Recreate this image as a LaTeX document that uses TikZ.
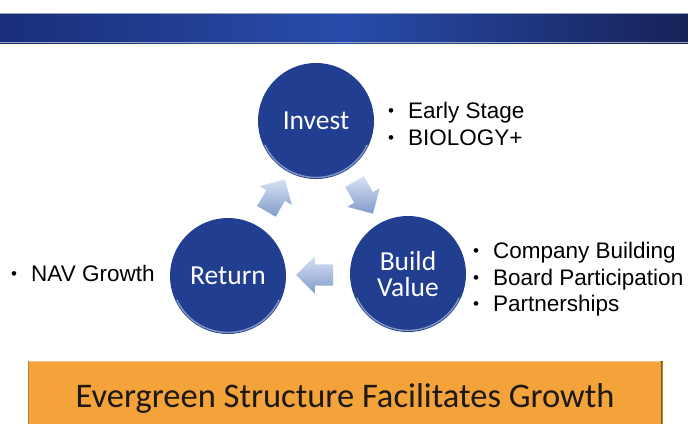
\documentclass[tikz,border=0pt]{standalone}
\usepackage{fontspec}
\setmainfont{Liberation Sans}
\newfontfamily\calibri{Carlito}
\usetikzlibrary{shapes.arrows}
\definecolor{circblue}{RGB}{33,62,145}
\definecolor{bandL}{RGB}{26,46,122}
\definecolor{bandM}{RGB}{40,76,170}
\definecolor{bandR}{RGB}{22,34,88}
\definecolor{bandline}{RGB}{150,162,185}
\definecolor{arrL}{RGB}{214,225,243}
\definecolor{arrD}{RGB}{130,155,203}
\definecolor{bannerfill}{RGB}{244,162,58}
\definecolor{bannerdraw}{RGB}{190,125,45}
\definecolor{bannertext}{RGB}{28,24,20}
\newcommand\bul{\makebox[20pt][l]{\raisebox{1.5pt}{\fontsize{17}{17}\selectfont •}}}
\tikzset{
  stage/.style={circle, minimum size=116pt, fill=circblue, text=white,
    font=\calibri\fontsize{27.5}{27}\selectfont, inner sep=0pt, align=center},
  cycarrow/.style={single arrow, draw=none, minimum height=37pt, inner sep=10.5pt,
    single arrow head extend=8pt, top color=arrL, bottom color=arrD},
  bullet/.style={font=\fontsize{22.5}{27}\selectfont, inner sep=0pt, anchor=base west},
  banner/.style={rectangle, minimum width=634pt, minimum height=74pt, fill=bannerfill,
    draw=bannerdraw, line width=0.8pt, text=bannertext,
    font=\calibri\fontsize{34.5}{34}\selectfont, inner sep=0pt},
  rim/.style={white, opacity=0.45, line width=1.4pt}
}
\begin{document}
\begin{tikzpicture}[x=1pt,y=1pt]
\useasboundingbox (0,0) rectangle (688,-423);
\clip (0,0) rectangle (688,-423);
\fill[white] (0,0) rectangle (688,-423);
% top band
\shade[left color=bandL, right color=bandR, middle color=bandM] (0,-13) rectangle (688,-43);
\draw[bandline, line width=1.2pt] (0,-13.6) -- (688,-13.6);
\draw[bandline, line width=1.2pt] (0,-42.4) -- (688,-42.4);
% stages
\node[stage] (inv) at (316,-121) {Invest};
\node[stage] (ret) at (228,-276) {Return};
\node[stage] (bld) at (408,-274) {Build\\[-1pt]Value};
\foreach \n in {inv,ret,bld}{
  \draw[rim] ([shift={(205:56.5)}]\n.center) arc[start angle=205, end angle=335, radius=56.5];
}
% cycle arrows
\node[cycarrow, rotate=60] (a1) at (273,-200) {};
\node[cycarrow, rotate=-60] (a2) at (361,-193) {};
\node[cycarrow, rotate=180] (a3) at (320,-275) {};
% bullets
\node[bullet] (e1) at (388,-118) {\bul Early Stage};
\node[bullet] (e2) at (388,-145) {\bul BIOLOGY+};
\node[bullet] (c1) at (473,-258) {\bul Company Building};
\node[bullet] (c2) at (473,-285) {\bul Board Participation};
\node[bullet] (c3) at (473,-311) {\bul Partnerships};
\node[bullet] (n1) at (11,-281) {\bul NAV Growth};
% banner
\node[banner] (ban) at (345,-398) {Evergreen Structure Facilitates Growth};
\draw[bannerdraw!70!black, line width=1.6pt] ([xshift=-0.8pt]ban.north east) -- ([xshift=-0.8pt]ban.south east);
\draw[bannerfill!60!white, line width=1pt] ([shift={(1pt,-1.2pt)}]ban.north west) -- ([shift={(-2pt,-1.2pt)}]ban.north east);
\end{tikzpicture}
\end{document}
